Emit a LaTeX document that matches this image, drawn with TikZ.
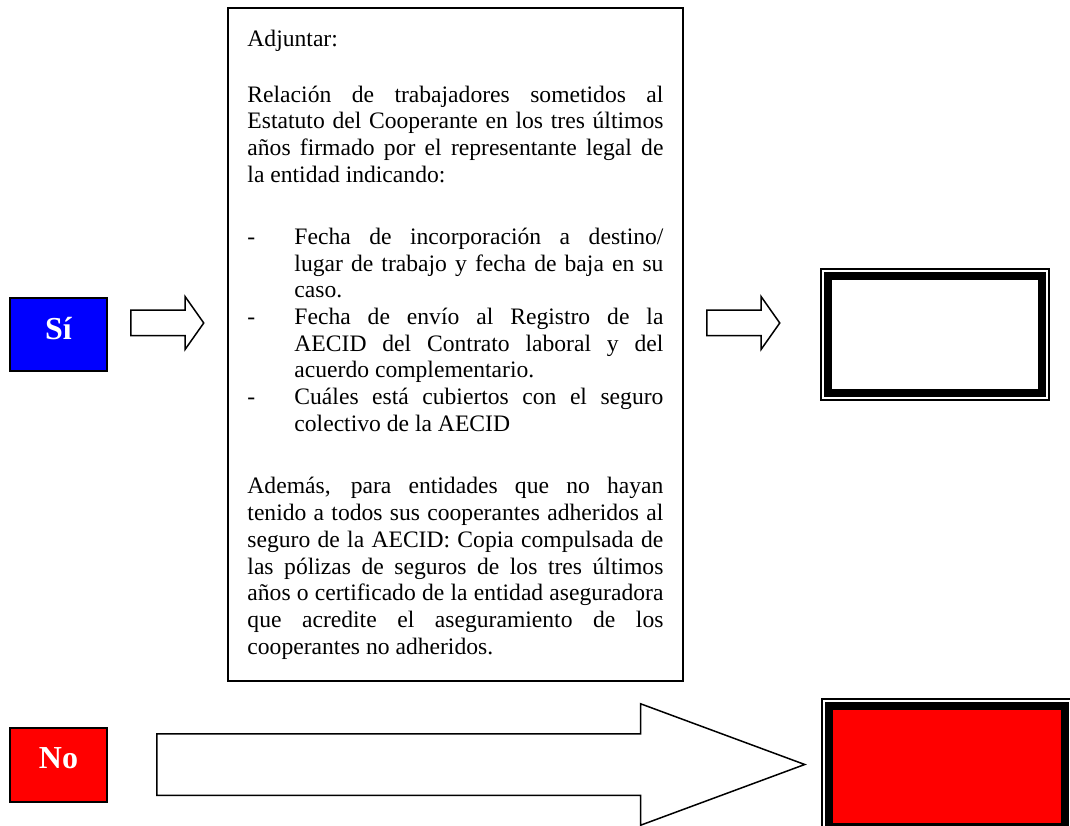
\documentclass[tikz,border=0pt]{standalone}
\usepackage{fontspec}
\setmainfont{Liberation Serif}
\usetikzlibrary{shapes.arrows,positioning}
\hyphenpenalty=10000
\exhyphenpenalty=10000
\newcommand{\dashitem}{\noindent\llap{\makebox[47pt][l]{-}}}

\tikzset{
  answer/.style={draw, line width=1.5pt, minimum width=97pt, minimum height=73pt, text depth=13pt, text=white, font=\fontsize{32pt}{36pt}\selectfont\bfseries},
  blockarrow/.style={single arrow, draw, line width=1.5pt, inner xsep=0pt, single arrow head indent=0pt, anchor=tail},
  framed/.style={draw, line width=1.2pt, inner sep=0pt}
}

\begin{document}
\begin{tikzpicture}[x=1pt,y=1pt]
\useasboundingbox (0,0) rectangle (1070,825);
\clip (0,0) rectangle (1070,825);

\node[answer, fill=blue] (si) at (58.5,490.5) {Sí};
\node[answer, fill=red, minimum height=74pt] (no) at (58.5,60) {No};

\node[draw, line width=1.5pt, minimum width=455pt, minimum height=673pt, inner sep=0pt] (docbox) at (455.5,480.5) {};
\node[anchor=north west, inner sep=0pt, text width=416pt, align=justify, font=\fontsize{23.6pt}{26.7pt}\selectfont] (doctext) at ([xshift=20pt,yshift=-23pt]docbox.north west) {\spaceskip=5.9pt plus 20pt minus 2.5pt
Adjuntar:\par\vspace{28.5pt}
Relación de trabajadores sometidos al\linebreak
Estatuto del Cooperante en los tres últimos\linebreak
años firmado por el representante legal de\linebreak
la entidad indicando:\par\vspace{35.5pt}
{\leftskip=47pt
\dashitem Fecha de incorporación a destino/\linebreak
lugar de trabajo y fecha de baja en su\linebreak
caso.\par
\dashitem Fecha de envío al Registro de la\linebreak
AECID del Contrato laboral y del\linebreak
acuerdo complementario.\par
\dashitem Cuáles está cubiertos con el seguro\linebreak
colectivo de la AECID\par}
\vspace{36pt}
Además, para entidades que no hayan\linebreak
tenido a todos sus cooperantes adheridos al\linebreak
seguro de la AECID: Copia compulsada de\linebreak
las pólizas de seguros de los tres últimos\linebreak
años o certificado de la entidad aseguradora\linebreak
que acredite el aseguramiento de los\linebreak
cooperantes no adheridos.\par};

% result boxes
\node[framed, minimum width=228pt, minimum height=131pt] (okbox) at (935,490.5) {};
\draw[line width=8pt] ([shift={(8,-8)}]okbox.north west) rectangle ([shift={(-8,8)}]okbox.south east);
\node[framed, minimum width=250pt, minimum height=135pt] (nobox) at (947,58.5) {};
\filldraw[line width=8pt, fill=red] ([shift={(8,-8)}]nobox.north west) rectangle ([shift={(-8,8)}]nobox.south east);

% block arrows
\node[blockarrow, minimum height=73pt, minimum width=51pt, inner ysep=12pt, single arrow head extend=13.5pt, single arrow tip angle=109.6] (siarrow) at (130,502) {};
\node[blockarrow, minimum height=73pt, minimum width=51pt, inner ysep=12pt, single arrow head extend=13.5pt, single arrow tip angle=109.6] (docarrow) at (706,502) {};
\node[blockarrow, minimum height=648pt, minimum width=120pt, inner ysep=30pt, single arrow head extend=30pt, single arrow tip angle=40.6] (noarrow) at (156,60.5) {};

\end{tikzpicture}
\end{document}
